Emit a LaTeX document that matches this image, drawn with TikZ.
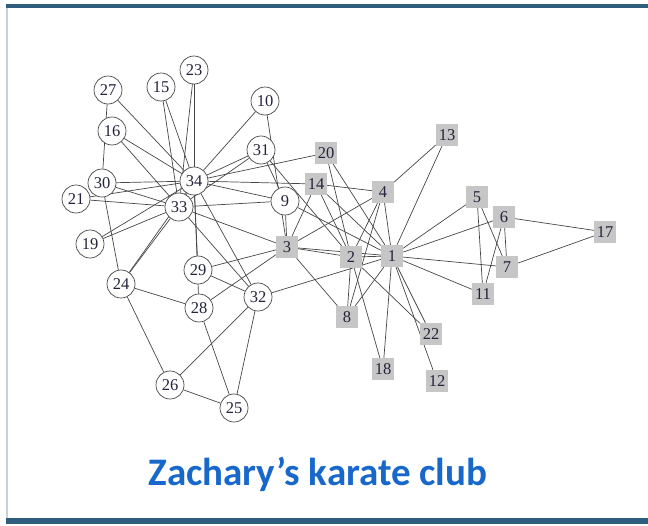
\documentclass[tikz,border=0pt]{standalone}
\usepackage{fontspec}
\setmainfont{Liberation Serif}
\newfontfamily\titlefont{Carlito}
\usetikzlibrary{backgrounds}
\definecolor{framebar}{RGB}{47,93,126}
\definecolor{frameside}{RGB}{200,208,216}
\definecolor{titleblue}{RGB}{24,104,204}
\definecolor{tiegray}{RGB}{70,70,70}
\definecolor{nodetext}{RGB}{35,35,60}
\begin{document}
\begin{tikzpicture}[
  x=1pt, y=-1pt,
  member/.style={circle, draw=tiegray, line width=0.7pt, fill=white,
                 minimum size=28pt, inner sep=0pt, text=nodetext,
                 font=\fontsize{16.5}{16.5}\selectfont},
  officer/.style={rectangle, fill=gray!45, minimum size=22pt,
                  inner sep=0.5pt, text=nodetext,
                  font=\fontsize{16.5}{16.5}\selectfont},
  tie/.style={draw=tiegray, line width=0.7pt},
  caption/.style={font=\titlefont\bfseries\fontsize{39}{42}\selectfont,
                  text=titleblue}
]
  \useasboundingbox (0,0) rectangle (648,525);

  % frame
  \fill[framebar] (6,4) rectangle (648,8);
  \fill[frameside] (6,8) rectangle (8,518);
  \fill[framebar] (6,518) rectangle (648,524);

  % club members (circles) and officer's group (boxes)
  \foreach \n/\x/\y in {9/285/201, 10/265/101, 15/161/87, 16/112/131,
      19/90/244, 21/76/199, 23/194/70, 24/121/284, 25/234/408,
      26/170/385, 27/108/90, 28/199/308, 29/198/270, 30/102/183,
      31/261/150, 32/258/297, 33/179/207, 34/194/181}
    \node[member] (n\n) at (\x,\y) {\n};
  \foreach \n/\x/\y in {1/392/256, 2/351/257, 3/287/247, 4/383/192,
      5/477/197, 6/504/217, 7/507/267, 8/347/317, 11/483/294,
      12/437/381, 13/447/135, 14/316/184, 17/605/232, 18/383/369,
      20/326/153, 22/431/334}
    \node[officer] (n\n) at (\x,\y) {\n};

  % friendships
  \begin{scope}[on background layer]
    \foreach \a/\b in {1/2, 1/3, 1/4, 1/5, 1/6, 1/7, 1/8, 1/9, 1/11,
        1/12, 1/13, 1/14, 1/18, 1/20, 1/22, 1/32,
        2/3, 2/4, 2/8, 2/14, 2/18, 2/20, 2/22, 2/31,
        3/4, 3/8, 3/9, 3/10, 3/14, 3/28, 3/29, 3/33,
        4/8, 4/13, 4/14, 5/7, 5/11, 6/7, 6/11, 6/17, 7/17,
        9/31, 9/33, 9/34, 10/34, 14/34, 15/33, 15/34, 16/33, 16/34,
        19/33, 19/34, 20/34, 21/33, 21/34, 23/33, 23/34,
        24/26, 24/28, 24/30, 24/33, 24/34, 25/26, 25/28, 25/32,
        26/32, 27/30, 27/34, 28/34, 29/32, 29/34, 30/33, 30/34,
        31/33, 31/34, 32/33, 32/34, 33/34}
      \draw[tie] (n\a) -- (n\b);
  \end{scope}

  \node[caption] (title) at (318,474) {Zachary’s karate club};
\end{tikzpicture}
\end{document}
